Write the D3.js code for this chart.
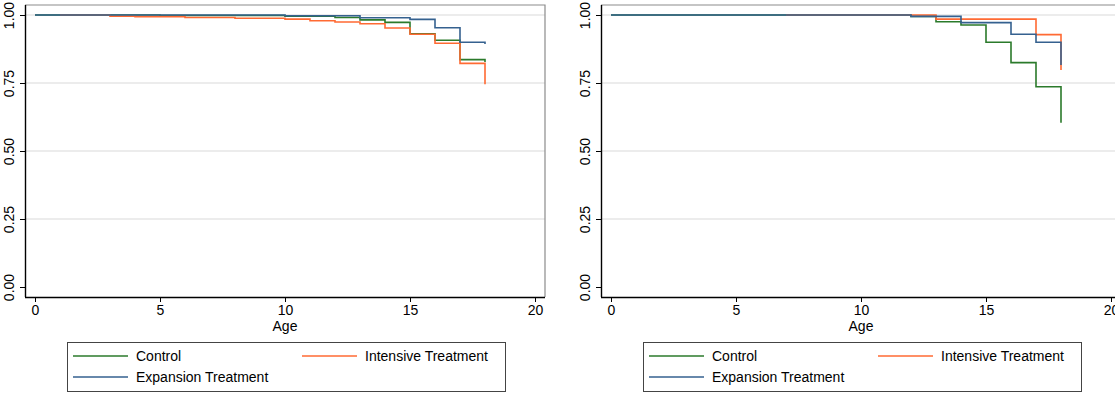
<!DOCTYPE html>
<html>
<head>
<meta charset="utf-8">
<script src="https://cdn.jsdelivr.net/npm/d3@7"></script>
<style>
  body { margin: 0; background: #fff; }
  svg { display: block; font-family: "Liberation Sans", Arial, Helvetica, sans-serif; }
</style>
</head>
<body>
<div id="chart"></div>
<script>
// Kaplan-Meier style survival curves, [age, survival] at each step
const seriesNames = ["Control", "Intensive Treatment", "Expansion Treatment"];
const seriesColors = ["#2b7a2b", "#ff6a33", "#35618f"];

const leftControl = [[0, 1], [5, 0.998], [10, 0.996], [12, 0.991], [13, 0.982], [14, 0.973], [15, 0.931], [16, 0.907], [17, 0.836], [18, 0.827]];
const leftIntensive = [[1, 1], [3, 0.996], [4, 0.994], [6, 0.991], [8, 0.988], [10, 0.985], [11, 0.979], [12, 0.974], [13, 0.968], [14, 0.952], [15, 0.929], [16, 0.896], [17, 0.822], [18, 0.745]];
const leftExpansion = [[0, 1], [10, 0.997], [13, 0.99], [15, 0.984], [16, 0.953], [17, 0.9], [18, 0.893]];

const rightControl = [[0, 1], [12, 0.995], [13, 0.975], [14, 0.963], [15, 0.9], [16, 0.825], [17, 0.736], [18, 0.604]];
const rightIntensive = [[7, 1], [13, 0.985], [17, 0.928], [18, 0.798]];
const rightExpansion = [[0, 1], [12, 0.995], [14, 0.972], [16, 0.929], [17, 0.9], [18, 0.816]];

const xTicks = [0, 5, 10, 15, 20];
const yTicks = [0, 0.25, 0.5, 0.75, 1];

const W = 1115, H = 393;
const svg = d3.select("#chart").append("svg")
  .attr("width", W)
  .attr("height", H);

function drawPanel(left, series) {
  const frameL = left, frameR = left + 520;
  const frameT = 5, frameB = 297;

  const x = d3.scaleLinear().domain([0, 20]).range([left + 10, left + 510]);
  const y = d3.scaleLinear().domain([0, 1]).range([287, 15]);

  const g = svg.append("g");

  // gridlines
  g.selectAll("line.grid")
    .data(yTicks.filter(d => d > 0))
    .enter().append("line")
    .attr("x1", frameL).attr("x2", frameR)
    .attr("y1", d => y(d)).attr("y2", d => y(d))
    .attr("stroke", "#e6e6e6")
    .attr("stroke-width", 1.5);

  // top and right frame
  g.append("path")
    .attr("d", `M${frameL},${frameT}H${frameR}V${frameB}`)
    .attr("fill", "none")
    .attr("stroke", "#8c8c8c")
    .attr("stroke-width", 1.2);

  // curves
  const line = d3.line()
    .x(d => x(d[0]))
    .y(d => y(d[1]))
    .curve(d3.curveStepAfter);

  series.forEach((s, i) => {
    g.append("path")
      .datum(s)
      .attr("d", line)
      .attr("fill", "none")
      .attr("stroke", seriesColors[i])
      .attr("stroke-width", 1.6);
  });

  // y axis
  const yAxis = g.append("g")
    .attr("transform", `translate(${frameL},0)`)
    .call(d3.axisLeft(y).tickValues(yTicks).tickFormat(d3.format(".2f")).tickSize(5).tickPadding(5));
  yAxis.select(".domain").attr("d", `M0.5,${frameT}V${frameB}`).attr("stroke", "#000").attr("stroke-width", 1.4);
  yAxis.selectAll(".tick line").attr("stroke", "#000");
  yAxis.selectAll(".tick text")
    .attr("font-size", 14)
    .attr("fill", "#000")
    .attr("transform", "rotate(-90)")
    .attr("x", 0)
    .attr("y", -11)
    .attr("dy", 0)
    .attr("text-anchor", "middle");

  // x axis
  const xAxis = g.append("g")
    .attr("transform", `translate(0,${frameB})`)
    .call(d3.axisBottom(x).tickValues(xTicks).tickSize(5).tickPadding(3));
  xAxis.select(".domain").attr("d", `M${frameL},0.5H${frameR}`).attr("stroke", "#000").attr("stroke-width", 1.4);
  xAxis.selectAll(".tick line").attr("stroke", "#000");
  xAxis.selectAll(".tick text").attr("font-size", 14).attr("fill", "#000");

  g.append("text")
    .attr("x", (frameL + frameR) / 2)
    .attr("y", 331)
    .attr("text-anchor", "middle")
    .attr("font-size", 14)
    .text("Age");

  // legend
  const lx = left + 42, ly = 342, lw = 438, lh = 49;
  const lg = g.append("g").attr("transform", `translate(${lx},${ly})`);
  lg.append("rect")
    .attr("x", 0.5).attr("y", 0.5)
    .attr("width", lw).attr("height", lh)
    .attr("fill", "#fff")
    .attr("stroke", "#444")
    .attr("stroke-width", 1);

  const items = [
    { name: seriesNames[0], color: seriesColors[0], col: 0, row: 0 },
    { name: seriesNames[1], color: seriesColors[1], col: 1, row: 0 },
    { name: seriesNames[2], color: seriesColors[2], col: 0, row: 1 }
  ];
  items.forEach(it => {
    const ox = it.col ? 235 : 6;
    const oy = 14 + it.row * 21;
    lg.append("line")
      .attr("x1", ox).attr("x2", ox + 55)
      .attr("y1", oy).attr("y2", oy)
      .attr("stroke", it.color)
      .attr("stroke-width", 1.6);
    lg.append("text")
      .attr("x", ox + 63)
      .attr("y", oy + 5)
      .attr("font-size", 14)
      .text(it.name);
  });
}

drawPanel(25, [leftControl, leftIntensive, leftExpansion]);
drawPanel(601, [rightControl, rightIntensive, rightExpansion]);
</script>
</body>
</html>
